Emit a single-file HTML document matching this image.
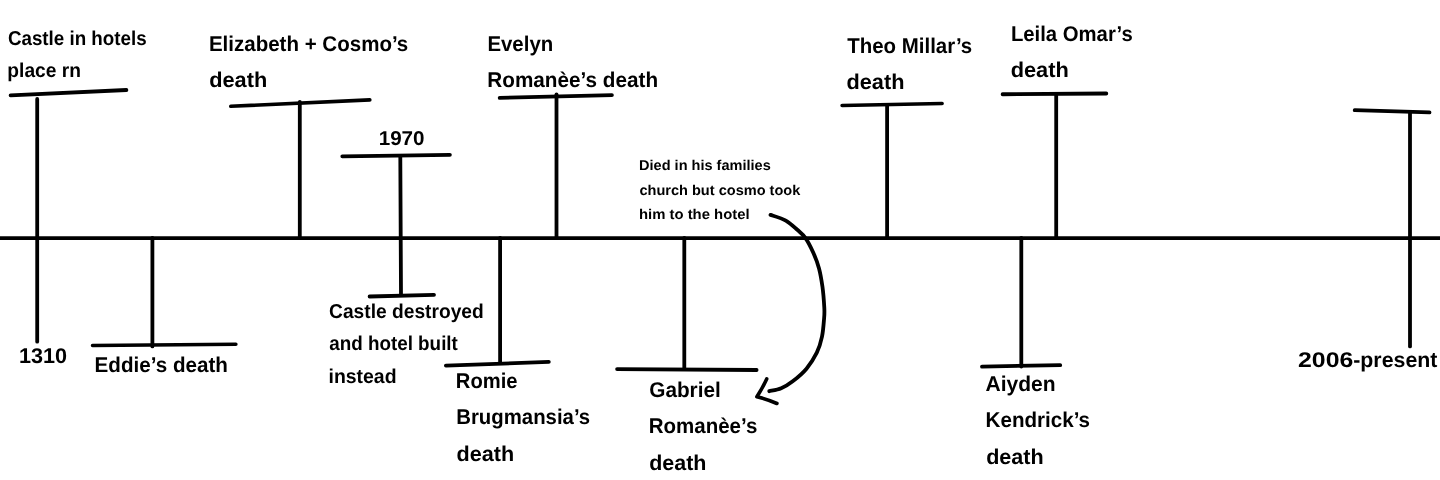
<!DOCTYPE html>
<html><head><meta charset="utf-8">
<style>
html,body{margin:0;padding:0;background:#fff;}
body{width:1440px;height:480px;overflow:hidden;}
svg{display:block;will-change:transform;}
text{font-family:"Liberation Sans",sans-serif;font-weight:bold;fill:#000;text-rendering:geometricPrecision;}
.l{stroke:#000;stroke-width:3.8;stroke-linecap:round;stroke-linejoin:round;fill:none;}
.b{font-size:21.3px;}
.m{font-size:20.0px;}
.s{font-size:14.2px;}
</style></head><body>
<svg width="1440" height="480" viewBox="0 0 1440 480">
<rect width="1440" height="480" fill="#fff"/>
<!-- main axis -->
<line class="l" x1="-5" y1="238.05" x2="1445" y2="238.05"/>
<!-- 1: Castle -->
<line class="l" x1="37.2" y1="98.9" x2="37.2" y2="341.7"/>
<line class="l" x1="10.6" y1="95.4" x2="126.4" y2="90"/>
<!-- 2: Eddie -->
<line class="l" x1="152.4" y1="238" x2="152.4" y2="346.4"/>
<line class="l" x1="92.5" y1="345.4" x2="235.9" y2="344.3" style="stroke-width:3.5"/>
<!-- 3: Elizabeth -->
<line class="l" x1="299.8" y1="102" x2="299.8" y2="238"/>
<line class="l" x1="230.8" y1="106.3" x2="369.8" y2="99.9" style="stroke-width:3.6"/>
<!-- 4: 1970 -->
<line class="l" x1="400.3" y1="156.5" x2="401" y2="295"/>
<line class="l" x1="342.3" y1="156.3" x2="449.9" y2="154.8"/>
<line class="l" x1="369.6" y1="296.5" x2="434" y2="294.8"/>
<!-- 5: Romie -->
<line class="l" x1="500.1" y1="238" x2="500.1" y2="363"/>
<line class="l" x1="445.9" y1="365.6" x2="548.8" y2="361.9"/>
<!-- 6: Evelyn -->
<line class="l" x1="556.5" y1="94.3" x2="556.5" y2="238"/>
<line class="l" x1="499.7" y1="97.9" x2="611.9" y2="95.1"/>
<!-- 7: Gabriel -->
<line class="l" x1="684.3" y1="238" x2="684.3" y2="369"/>
<line class="l" x1="617.1" y1="369.1" x2="756.6" y2="370"/>
<!-- 8: Theo -->
<line class="l" x1="887.1" y1="105" x2="887.1" y2="238"/>
<line class="l" x1="842.1" y1="105.5" x2="942.1" y2="103.5" style="stroke-width:3.6"/>
<!-- 9: Leila -->
<line class="l" x1="1056.2" y1="94.5" x2="1056.2" y2="238"/>
<line class="l" x1="1002.6" y1="94.25" x2="1106.3" y2="93.5"/>
<!-- 10: Aiyden -->
<line class="l" x1="1021.3" y1="238" x2="1021.3" y2="366.5"/>
<line class="l" x1="982" y1="366.6" x2="1060.2" y2="365.1"/>
<!-- 11: 2006 -->
<line class="l" x1="1410" y1="112.5" x2="1410" y2="346.4"/>
<line class="l" x1="1354.7" y1="110.2" x2="1429.5" y2="112.4"/>
<!-- arrow -->
<path class="l" d="M770.5,214.9 C773.0,215.8 781.3,218.1 785.8,220.6 C790.3,223.1 794.0,226.9 797.3,229.8 C800.5,232.7 802.6,234.0 805.3,237.8 C808.0,241.6 811.0,247.5 813.3,252.7 C815.6,257.8 817.6,263.0 819.1,268.7 C820.6,274.4 821.6,280.6 822.5,287.1 C823.4,293.6 824.0,302.5 824.3,307.7 C824.6,312.9 824.5,313.5 824.1,318.3 C823.7,323.1 823.2,331.0 822.0,336.7 C820.8,342.4 819.4,347.4 816.8,352.7 C814.2,358.0 810.5,363.9 806.5,368.7 C802.5,373.5 796.9,378.1 792.7,381.3 C788.5,384.6 785.1,386.6 781.2,388.2 C777.3,389.8 771.3,390.7 769.3,391.2"/>
<path class="l" style="stroke-width:3.6" d="M766.7,378.9 Q762.6,387.8 756.9,396.8 Q766.4,399 776.9,403.5"/>
<text class="m" x="7.88" y="45" textLength="138.79" lengthAdjust="spacingAndGlyphs">Castle in hotels</text>
<text class="m" x="7.37" y="77" textLength="73.54" lengthAdjust="spacingAndGlyphs">place rn</text>
<text class="m" x="378.66" y="145" textLength="45.92" lengthAdjust="spacingAndGlyphs">1970</text>
<text class="m" x="329.10" y="318" textLength="154.64" lengthAdjust="spacingAndGlyphs">Castle destroyed</text>
<text class="m" x="329.18" y="350" textLength="128.70" lengthAdjust="spacingAndGlyphs">and hotel built</text>
<text class="m" x="328.49" y="383" textLength="68.07" lengthAdjust="spacingAndGlyphs">instead</text>
<text class="b" x="208.89" y="51" textLength="199.41" lengthAdjust="spacingAndGlyphs">Elizabeth + Cosmo’s</text>
<text class="b" x="209.17" y="87" textLength="58.02" lengthAdjust="spacingAndGlyphs">death</text>
<text class="b" x="487.41" y="51" textLength="65.82" lengthAdjust="spacingAndGlyphs">Evelyn</text>
<text class="b" x="487.34" y="87" textLength="170.71" lengthAdjust="spacingAndGlyphs">Romanèe’s death</text>
<text class="b" x="847.24" y="53" textLength="125.02" lengthAdjust="spacingAndGlyphs">Theo Millar’s</text>
<text class="b" x="846.51" y="89" textLength="57.96" lengthAdjust="spacingAndGlyphs">death</text>
<text class="b" x="1010.89" y="41" textLength="121.87" lengthAdjust="spacingAndGlyphs">Leila Omar’s</text>
<text class="b" x="1010.66" y="77" textLength="58.15" lengthAdjust="spacingAndGlyphs">death</text>
<text class="b" x="19.01" y="363" textLength="48.16" lengthAdjust="spacingAndGlyphs">1310</text>
<text class="b" x="94.60" y="372" textLength="133.36" lengthAdjust="spacingAndGlyphs">Eddie’s death</text>
<text class="b" x="455.87" y="388" textLength="61.68" lengthAdjust="spacingAndGlyphs">Romie</text>
<text class="b" x="456.18" y="424" textLength="133.96" lengthAdjust="spacingAndGlyphs">Brugmansia’s</text>
<text class="b" x="456.51" y="461" textLength="57.65" lengthAdjust="spacingAndGlyphs">death</text>
<text class="b" x="649.26" y="397" textLength="71.50" lengthAdjust="spacingAndGlyphs">Gabriel</text>
<text class="b" x="648.72" y="433" textLength="108.64" lengthAdjust="spacingAndGlyphs">Romanèe’s</text>
<text class="b" x="649.23" y="470" textLength="57.28" lengthAdjust="spacingAndGlyphs">death</text>
<text class="b" x="985.54" y="391" textLength="70.09" lengthAdjust="spacingAndGlyphs">Aiyden</text>
<text class="b" x="985.60" y="427" textLength="104.48" lengthAdjust="spacingAndGlyphs">Kendrick’s</text>
<text class="b" x="986.18" y="464" textLength="57.57" lengthAdjust="spacingAndGlyphs">death</text>
<text class="b" x="1298.05" y="367" textLength="55.26" lengthAdjust="spacingAndGlyphs">2006</text>
<text class="b" x="1353.22" y="367" textLength="84.16" lengthAdjust="spacingAndGlyphs">-present</text>
<text class="s" x="639.05" y="170" textLength="131.69" lengthAdjust="spacingAndGlyphs">Died in his families</text>
<text class="s" x="639.40" y="195" textLength="160.95" lengthAdjust="spacingAndGlyphs">church but cosmo took</text>
<text class="s" x="638.93" y="219" textLength="110.65" lengthAdjust="spacingAndGlyphs">him to the hotel</text>
</svg>
</body></html>
